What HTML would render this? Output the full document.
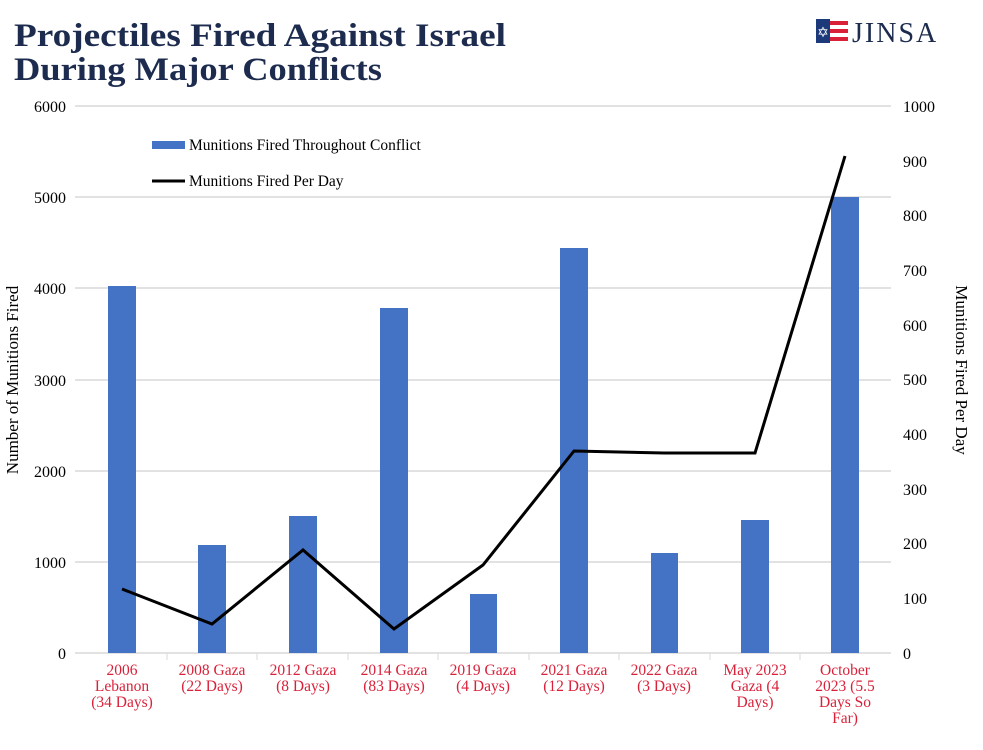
<!DOCTYPE html>
<html><head><meta charset="utf-8"><style>
body{margin:0;background:#fff;}
svg{display:block;font-family:"Liberation Serif",serif;}
</style></head><body>
<svg width="983" height="750" viewBox="0 0 983 750" xmlns="http://www.w3.org/2000/svg">
<rect width="983" height="750" fill="#fff"/>
<text x="14" y="46" font-size="33" font-weight="bold" fill="#1c2b4e" textLength="492" lengthAdjust="spacingAndGlyphs">Projectiles Fired Against Israel</text>
<text x="14" y="80" font-size="33" font-weight="bold" fill="#1c2b4e" textLength="368" lengthAdjust="spacingAndGlyphs">During Major Conflicts</text>
<!-- logo -->
<g transform="translate(816,19)">
<rect x="0" y="0" width="32" height="24" fill="#fff"/>
<rect x="0" y="0" width="14" height="24" fill="#1c3a7a"/>
<rect x="14" y="2" width="18" height="4" fill="#d9213a"/>
<rect x="14" y="10" width="18" height="4" fill="#d9213a"/>
<rect x="14" y="18" width="18" height="4" fill="#d9213a"/>
<text x="7" y="18" font-size="14" fill="#fff" text-anchor="middle">✡</text>
</g>
<text x="852" y="42" font-size="28" fill="#1c2b4e" letter-spacing="2">JINSA</text>
<!-- grid -->
<g stroke="#d9d9d9" stroke-width="1.5">
<line x1="75" y1="106" x2="891" y2="106"/>
<line x1="75" y1="197" x2="891" y2="197"/>
<line x1="75" y1="288" x2="891" y2="288"/>
<line x1="75" y1="380" x2="891" y2="380"/>
<line x1="75" y1="471" x2="891" y2="471"/>
<line x1="75" y1="562" x2="891" y2="562"/>
<line x1="75" y1="653" x2="891" y2="653"/>
</g>
<g stroke="#d9d9d9" stroke-width="1">
<line x1="167" y1="653" x2="167" y2="660"/><line x1="257" y1="653" x2="257" y2="660"/>
<line x1="348" y1="653" x2="348" y2="660"/><line x1="438" y1="653" x2="438" y2="660"/>
<line x1="529" y1="653" x2="529" y2="660"/><line x1="619" y1="653" x2="619" y2="660"/>
<line x1="710" y1="653" x2="710" y2="660"/><line x1="800" y1="653" x2="800" y2="660"/>
</g>
<g font-size="16" fill="#000" text-anchor="end">
<text x="66" y="112">6000</text><text x="66" y="203">5000</text><text x="66" y="294">4000</text>
<text x="66" y="386">3000</text><text x="66" y="477">2000</text><text x="66" y="568">1000</text><text x="66" y="659">0</text>
</g>
<g font-size="16" fill="#000">
<text x="903" y="112">1000</text><text x="903" y="167">900</text><text x="903" y="221">800</text>
<text x="903" y="276">700</text><text x="903" y="331">600</text><text x="903" y="385">500</text>
<text x="903" y="440">400</text><text x="903" y="495">300</text><text x="903" y="549">200</text>
<text x="903" y="604">100</text><text x="903" y="659">0</text>
</g>
<text transform="translate(18,380) rotate(-90)" font-size="17" text-anchor="middle">Number of Munitions Fired</text>
<text transform="translate(956,370) rotate(90)" font-size="17" text-anchor="middle">Munitions Fired Per Day</text>
<g fill="#4472c4">
<rect x="108" y="286" width="28" height="367"/>
<rect x="198" y="545" width="28" height="108"/>
<rect x="289" y="516" width="28" height="137"/>
<rect x="380" y="308" width="28" height="345"/>
<rect x="470" y="594" width="27" height="59"/>
<rect x="560" y="248" width="28" height="405"/>
<rect x="651" y="553" width="27" height="100"/>
<rect x="741" y="520" width="28" height="133"/>
<rect x="831" y="197" width="28" height="456"/>
</g>
<polyline fill="none" stroke="#000" stroke-width="3" points="122,589 212,624 303,550 394,629 483,565 574,451 664,453 755,453 845,156"/>
<rect x="152" y="141" width="33" height="8" fill="#4472c4"/>
<text x="189" y="150" font-size="15.5">Munitions Fired Throughout Conflict</text>
<line x1="152" y1="181" x2="185" y2="181" stroke="#000" stroke-width="3"/>
<text x="189" y="186" font-size="15.5">Munitions Fired Per Day</text>
<g font-size="15.5" fill="#d9213a" text-anchor="middle">
<text x="122" y="675">2006</text><text x="122" y="691">Lebanon</text><text x="122" y="707">(34 Days)</text>
<text x="212" y="675">2008 Gaza</text><text x="212" y="691">(22 Days)</text>
<text x="303" y="675">2012 Gaza</text><text x="303" y="691">(8 Days)</text>
<text x="394" y="675">2014 Gaza</text><text x="394" y="691">(83 Days)</text>
<text x="483" y="675">2019 Gaza</text><text x="483" y="691">(4 Days)</text>
<text x="574" y="675">2021 Gaza</text><text x="574" y="691">(12 Days)</text>
<text x="664" y="675">2022 Gaza</text><text x="664" y="691">(3 Days)</text>
<text x="755" y="675">May 2023</text><text x="755" y="691">Gaza (4</text><text x="755" y="707">Days)</text>
<text x="845" y="675">October</text><text x="845" y="691">2023 (5.5</text><text x="845" y="707">Days So</text><text x="845" y="723">Far)</text>
</g>
</svg>
</body></html>
